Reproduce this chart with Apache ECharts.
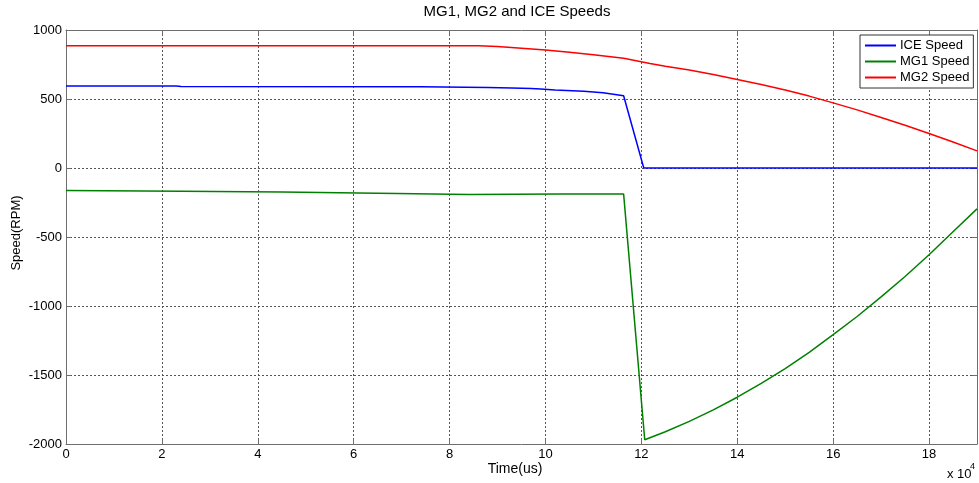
<!DOCTYPE html>
<html>
<head>
<meta charset="utf-8">
<script src="https://cdn.jsdelivr.net/npm/echarts@6/dist/echarts.min.js"></script>
<style>html,body{margin:0;padding:0;background:#fff}#c{width:979px;height:483px}</style>
</head>
<body>
<div id="c"></div>
<script>
// Time in units of 1e4 us
var iceTime  = [0, 2.3, 2.4, 7.4, 8.8, 9.3, 9.7, 9.9, 10.2, 10.8, 11.2, 11.63, 12.05, 19];
var iceSpeed = [594, 594, 590, 588, 584, 580, 576, 572, 566, 557, 546, 523, 0, 0];

var mg1Time  = [0, 2.4, 4.5, 6.9, 8.4, 10.3, 11.63, 12.07, 12.5, 13, 13.5, 14, 14.5, 15, 15.5, 16, 16.5, 17, 17.5, 18, 18.5, 19];
var mg1Speed = [-163, -168, -174, -184, -192, -189, -189, -1969, -1911, -1836, -1753, -1661, -1561, -1453, -1336, -1207, -1076, -934, -786, -629, -462, -296];

var mg2Time  = [0, 8.6, 9, 9.5, 10, 10.5, 11, 11.63, 12.18, 12.5, 13, 13.5, 14, 14.5, 15, 15.5, 16, 16.5, 17, 17.5, 18, 18.5, 19];
var mg2Speed = [886, 886, 880, 868, 855, 838, 820, 795, 758, 737, 710, 677, 642, 605, 565, 521, 472, 421, 366, 310, 250, 188, 124];

var xTicks = [0, 2, 4, 6, 8, 10, 12, 14, 16, 18];

function pairs(xs, ys) { return xs.map(function (x, i) { return [x, ys[i]]; }); }

var FONT = 'Liberation Sans, Arial, Helvetica, sans-serif';
var frame = '#6e6e6e';
var chart = echarts.init(document.getElementById('c'), null, { renderer: 'canvas' });

var axisCommonX = {
  type: 'value', min: 0, max: 19, interval: 2,
  axisLine: { show: true, onZero: false, lineStyle: { color: frame, width: 1 } },
  axisTick: { show: true, inside: true, length: 5, lineStyle: { color: frame } }
};
var axisCommonY = {
  type: 'value', min: -2000, max: 1000, interval: 500,
  axisLine: { show: true, onZero: false, lineStyle: { color: frame, width: 1 } },
  axisTick: { show: true, inside: true, length: 5, lineStyle: { color: frame } }
};

chart.setOption({
  animation: false,
  backgroundColor: '#fff',
  grid: { left: 66, top: 30, right: 2, bottom: 39, show: false },
  legend: {
    orient: 'vertical', left: 860, top: 35,
    icon: 'rect', itemWidth: 31, itemHeight: 2, itemGap: 3,
    padding: [4, 4, 4, 5],
    borderColor: '#333', borderWidth: 1, backgroundColor: '#fff',
    textStyle: { fontFamily: FONT, fontSize: 13, color: '#000', padding: [0, 0, 0, -1] },
    data: ['ICE Speed', 'MG1 Speed', 'MG2 Speed']
  },
  xAxis: [
    Object.assign({}, axisCommonX, {
      position: 'bottom',
      axisLabel: { show: true, color: '#000', fontFamily: FONT, fontSize: 13, margin: 4,
        customValues: xTicks, formatter: function (v) { return String(v); } },
      splitLine: { show: true, lineStyle: { color: '#555', type: [2, 2], width: 1 } }
    }),
    Object.assign({}, axisCommonX, {
      position: 'top', axisLabel: { show: false }, splitLine: { show: false }
    })
  ],
  yAxis: [
    Object.assign({}, axisCommonY, {
      position: 'left',
      axisLabel: { show: true, color: '#000', fontFamily: FONT, fontSize: 13, margin: 4,
        formatter: function (v) { return String(v); } },
      splitLine: { show: true, lineStyle: { color: '#555', type: [2, 2], width: 1 } }
    }),
    Object.assign({}, axisCommonY, {
      position: 'right', axisLabel: { show: false }, splitLine: { show: false }
    })
  ],
  series: [
    { name: 'ICE Speed', type: 'line', showSymbol: false, symbol: 'none', color: '#0000ff',
      lineStyle: { width: 1.5, color: '#0000ff' }, data: pairs(iceTime, iceSpeed), z: 3 },
    { name: 'MG1 Speed', type: 'line', showSymbol: false, symbol: 'none', color: '#008000',
      lineStyle: { width: 1.5, color: '#008000' }, data: pairs(mg1Time, mg1Speed), z: 3 },
    { name: 'MG2 Speed', type: 'line', showSymbol: false, symbol: 'none', color: '#ff0000',
      lineStyle: { width: 1.5, color: '#ff0000' }, data: pairs(mg2Time, mg2Speed), z: 3 }
  ],
  graphic: [
    { type: 'text', x: 517, y: 12,
      style: { text: 'MG1, MG2 and ICE Speeds', font: '15px ' + FONT, fill: '#000', align: 'center', verticalAlign: 'middle' }, z: 10 },
    { type: 'text', x: 515, y: 469,
      style: { text: 'Time(us)', font: '14px ' + FONT, fill: '#000', align: 'center', verticalAlign: 'middle' }, z: 10 },
    { type: 'text', x: 16, y: 233, rotation: Math.PI / 2,
      style: { text: 'Speed(RPM)', font: '13px ' + FONT, fill: '#000', align: 'center', verticalAlign: 'middle' }, z: 10 },
    { type: 'text', x: 947, y: 468,
      style: { text: 'x 10', font: '13px ' + FONT, fill: '#000', align: 'left', verticalAlign: 'top' }, z: 10 },
    { type: 'text', x: 970, y: 462,
      style: { text: '4', font: '9px ' + FONT, fill: '#000', align: 'left', verticalAlign: 'top' }, z: 10 }
  ]
});
</script>
</body>
</html>
